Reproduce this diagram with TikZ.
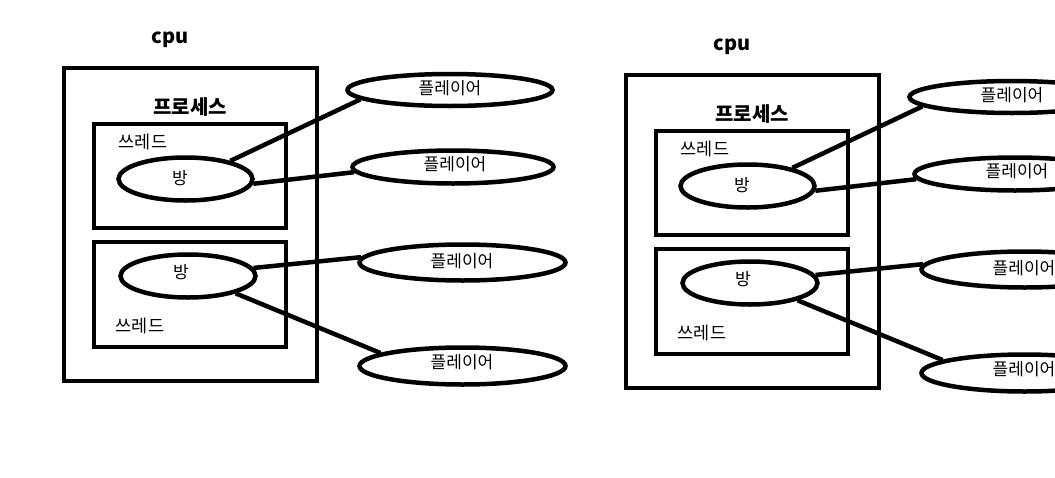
\documentclass[tikz,border=0pt]{standalone}
\usepackage{fontspec}
\setmainfont{Noto Sans CJK KR}
\usetikzlibrary{shapes.geometric}
\tikzset{
  frame/.style={draw, line width=4.5pt, rectangle, inner sep=0pt},
  oval/.style={draw, line width=4.5pt, ellipse, inner sep=0pt},
  conn/.style={line width=4.5pt},
  lbl/.style={inner sep=0pt},
  bigbold/.style={lbl, font=\fontsize{20}{22}\selectfont\bfseries},
  thr/.style={lbl, font=\fontsize{17.5}{19}\selectfont},
  txt/.style={lbl, font=\fontsize{17}{19}\selectfont},
}
\newcommand\drawscene[1]{%
  \node[bigbold] (#1cpu) at (170,40) {cpu};
  \node[frame, minimum width=253pt, minimum height=313pt] (#1outer) at (190.5,224.5) {};
  \node[bigbold] (#1proc) at (190,107) {프로세스};
  \node[frame, minimum width=192pt, minimum height=104pt] (#1t1) at (190,176) {};
  \node[thr] (#1t1l) at (143,142) {쓰레드};
  \node[oval, minimum width=134pt, minimum height=43pt] (#1r1) at (185.5,179) {};
  \node[txt] (#1r1l) at (180,178) {방};
  \node[frame, minimum width=192pt, minimum height=105pt] (#1t2) at (190,294.5) {};
  \node[thr] (#1t2l) at (140,326) {쓰레드};
  \node[oval, minimum width=135pt, minimum height=43pt] (#1r2) at (188,276) {};
  \node[txt] (#1r2l) at (181,272) {방};
  \node[oval, minimum width=205pt, minimum height=32pt] (#1p1) at (450,90) {};
  \node[txt] (#1p1l) at (450,88) {플레이어};
  \node[oval, minimum width=201pt, minimum height=33pt] (#1p2) at (453,167) {};
  \node[txt] (#1p2l) at (455,164) {플레이어};
  \node[oval, minimum width=206pt, minimum height=36pt] (#1p3) at (462.5,262.5) {};
  \node[txt] (#1p3l) at (462,261) {플레이어};
  \node[oval, minimum width=206pt, minimum height=37pt] (#1p4) at (462.5,366) {};
  \node[txt] (#1p4l) at (462,362) {플레이어};
  \draw[conn] (#1r1.22) -- (#1p1.186);
  \draw[conn] (#1r1.-4) -- (#1p2.183);
  \draw[conn] (#1r2.7) -- (#1p3.177);
  \draw[conn] (#1r2.-20) -- (#1p4.171);
}
\begin{document}
\begin{tikzpicture}[x=1pt,y=-1pt]
  \useasboundingbox (0,0) rectangle (1055,477);
  \clip (0,0) rectangle (1055,477);
  \fill[white] (0,0) rectangle (1055,477);
  \begin{scope}
    \drawscene{L}
  \end{scope}
  \begin{scope}[shift={(562,7)}]
    \drawscene{R}
  \end{scope}
\end{tikzpicture}
\end{document}
